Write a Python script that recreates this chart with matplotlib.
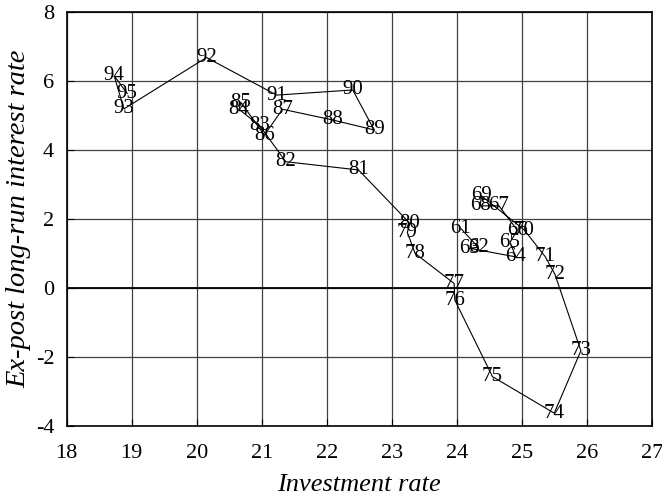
import matplotlib
matplotlib.use("Agg")
import matplotlib.pyplot as plt

# years 1961-1995, investment rate vs ex-post long-run interest rate
years = list(range(61, 96))
invest = [24.06, 24.33, 24.20, 24.91, 24.82, 24.93, 24.65, 24.36, 24.38, 25.04,
          25.36, 25.51, 25.91, 25.50, 24.55, 23.97, 23.96, 23.36, 23.24, 23.28,
          22.49, 21.37, 20.97, 20.65, 20.68, 21.04, 21.32, 22.09, 22.73, 22.40,
          21.23, 20.15, 18.88, 18.73, 18.93]
rate = [1.74, 1.19, 1.16, 0.91, 1.33, 1.69, 2.39, 2.39, 2.68, 1.69,
        0.92, 0.41, -1.81, -3.62, -2.56, -0.34, 0.14, 1.01, 1.62, 1.88,
        3.43, 3.67, 4.71, 5.19, 5.39, 4.44, 5.19, 4.88, 4.59, 5.75,
        5.60, 6.69, 5.20, 6.16, 5.65]
xticks = list(range(18, 28))
yticks = list(range(-4, 9, 2))

plt.rcParams['font.family'] = ['Liberation Serif', 'DejaVu Serif']
plt.rcParams['axes.unicode_minus'] = False

fig = plt.figure(figsize=(6.62, 5.03), dpi=100)
ax = fig.add_axes([0.1008, 0.1525, 0.8837, 0.823])

ax.plot(invest, rate, color='black', lw=0.8, zorder=3)
for yr, x, y in zip(years, invest, rate):
    ax.text(x, y, str(yr), fontsize=15, ha='center', va='center', zorder=4)

ax.axhline(0, color='black', lw=1.3, zorder=2)
ax.set_xlim(18, 27)
ax.set_ylim(-4, 8)
ax.set_xticks(xticks)
ax.set_yticks(yticks)
ax.grid(True, color='#404040', lw=0.9)
ax.tick_params(direction='in', length=5, labelsize=16)
ax.tick_params(axis='x', pad=13)
ax.tick_params(axis='y', pad=9)
for s in ax.spines.values():
    s.set_linewidth(1.2)

ax.set_xlabel('Investment rate', fontsize=19, style='italic', labelpad=8)
ax.set_ylabel('Ex-post long-run interest rate', fontsize=20.5, style='italic', labelpad=3)

fig.savefig('out.png', dpi=100)
